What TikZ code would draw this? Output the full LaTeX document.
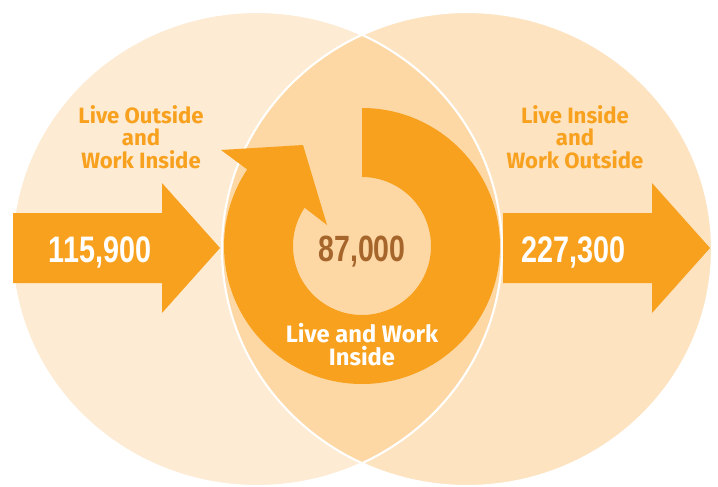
\documentclass[tikz,border=0pt]{standalone}
\usepackage{fontspec}
\setmainfont{Fira Sans}
\newfontfamily\numfont[FakeStretch=0.78]{Liberation Sans}
\usepackage{xcolor}
\usetikzlibrary{positioning}

\definecolor{leftzone}{HTML}{FDEBD3}
\definecolor{rightzone}{HTML}{FDE3C0}
\definecolor{bothzone}{HTML}{FDD8A5}
\definecolor{flow}{HTML}{F8A11F}
\definecolor{stay}{HTML}{A5652B}

\tikzset{
    zonetext/.style={text=flow, align=center, font=\bfseries\fontsize{12.6}{12.8}\selectfont},
    bignum/.style={text=white, anchor=base, font=\numfont\bfseries\fontsize{21}{21}\selectfont},
    zoneline/.style={draw=white, line width=1.2pt}
}

\begin{document}
\begin{tikzpicture}[x=0.02cm, y=-0.02cm]
    \useasboundingbox (0,0) rectangle (718,487);

    % Zones
    \fill [leftzone] (257,249) ellipse [x radius=245, y radius=237];
    \fill [rightzone] (467,249) ellipse [x radius=245, y radius=237];
    \begin{scope}
        \clip (257,249) ellipse [x radius=245, y radius=237];
        \fill [bothzone] (467,249) ellipse [x radius=245, y radius=237];
    \end{scope}
    \draw [zoneline] (257,249) ellipse [x radius=245, y radius=237];
    \draw [zoneline] (467,249) ellipse [x radius=245, y radius=237];

    % Flow arrows
    \foreach \sx in {13,503} {
        \fill [flow, shift={(\sx,248)}] (0,-35) -- (149,-35) -- (149,-65) -- (207,0)
            -- (149,65) -- (149,35) -- (0,35) -- cycle;
    }

    % Circular arrow
    \fill [flow, shift={(362,246)}] (-90:138) arc [start angle=-90, end angle=213.7, radius=138]
        -- (-141,-96) -- (-59,-101) -- (-35,-21)
        -- (213.7:69) arc [start angle=213.7, end angle=-90, radius=69] -- cycle;

    % Texts
    \node [zonetext] (outin) at (141,137) {Live Outside\\and\\Work Inside};
    \node [zonetext] (inout) at (575,137) {Live Inside\\and\\Work Outside};
    \node [zonetext, text=white, font=\bfseries\fontsize{13.5}{13}\selectfont] (inin) at (362,345) {Live and Work\\Inside};

    \node [bignum] (outnum) at (100,262) {115,900};
    \node [bignum] (innum) at (574,262) {227,300};
    \node [bignum, text=stay, font=\numfont\bfseries\fontsize{20.8}{20.8}\selectfont] (bothnum) at (362,261) {87,000};
\end{tikzpicture}
\end{document}
